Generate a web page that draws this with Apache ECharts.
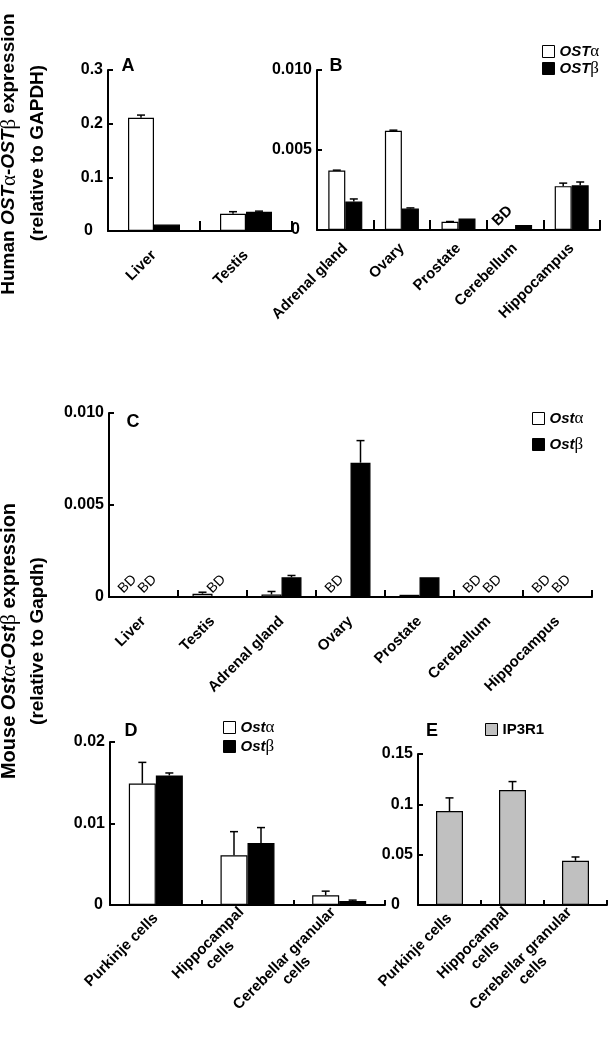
<!DOCTYPE html>
<html><head><meta charset="utf-8">
<script src="https://cdn.jsdelivr.net/npm/echarts@6/dist/echarts.min.js"></script>
<style>html,body{margin:0;padding:0;background:#fff}#c{width:613px;height:1050px}</style>
</head><body><div id="c"></div>
<script>
// ---------- Data ----------
// Panel A (human)
const catsA = ['Liver', 'Testis'];
const humanAlphaA = [0.211, 0.032];
const humanAlphaAErr = [0.005, 0.004];
const humanBetaA = [0.012, 0.036];
const humanBetaAErr = [0, 0.001];
const yTicksA = ['0', '0.1', '0.2', '0.3'];
// Panel B (human)
const catsB = ['Adrenal gland', 'Ovary', 'Prostate', 'Cerebellum', 'Hippocampus'];
const humanAlphaB = [0.00372, 0.0062, 0.00051, 'BD', 0.00274];
const humanAlphaBErr = [0.00002, 0.00004, 0.00002, 0, 0.00019];
const humanBetaB = [0.00178, 0.00134, 0.00072, 0.00031, 0.00279];
const humanBetaBErr = [0.00016, 0.00004, 0, 0, 0.00021];
const yTicksB = ['0', '0.005', '0.010'];
// Panel C (mouse tissues)
const catsC = ['Liver', 'Testis', 'Adrenal gland', 'Ovary', 'Prostate', 'Cerebellum', 'Hippocampus'];
const mouseAlphaC = ['BD', 0.00018, 0.00014, 'BD', 0.00012, 'BD', 'BD'];
const mouseAlphaCErr = [0, 0.00008, 0.00016, 0, 0, 0, 0];
const mouseBetaC = ['BD', 'BD', 0.00107, 0.0073, 0.00107, 'BD', 'BD'];
const mouseBetaCErr = [0, 0, 0.0001, 0.0012, 0, 0, 0];
const yTicksC = ['0', '0.005', '0.010'];
// Panel D (mouse cells)
const catsD = ['Purkinje cells', 'Hippocampal\ncells', 'Cerebellar granular\ncells'];
const mouseAlphaD = [0.0149, 0.0061, 0.0012];
const mouseAlphaDErr = [0.0026, 0.0029, 0.0005];
const mouseBetaD = [0.0159, 0.0076, 0.0005];
const mouseBetaDErr = [0.0003, 0.0019, 0.0001];
const yTicksD = ['0', '0.01', '0.02'];
// Panel E (IP3R1)
const catsE = ['Purkinje cells', 'Hippocampal\ncells', 'Cerebellar granular\ncells'];
const ip3r1E = [0.0934, 0.1143, 0.044];
const ip3r1EErr = [0.013, 0.0083, 0.0037];
const yTicksE = ['0', '0.05', '0.1', '0.15'];

// ---------- Helpers ----------
const FONT = '"Liberation Sans", Arial, Helvetica, sans-serif';
const SERIF = '"Liberation Serif", "DejaVu Serif", serif';

function yAxisCfg(gi, ticks, zeroPad) {
  const max = parseFloat(ticks[ticks.length - 1]);
  const interval = max / (ticks.length - 1);
  return {
    type: 'value', gridIndex: gi, min: 0, max: max, interval: interval,
    splitLine: { show: false },
    axisLine: { show: true, lineStyle: { color: '#000', width: 2 } },
    axisTick: { show: true, inside: true, length: 5, lineStyle: { color: '#000', width: 2 } },
    axisLabel: {
      color: '#000', fontWeight: 'bold', fontSize: 16, fontFamily: FONT, margin: 5,
      formatter: function (v) { const s = ticks[Math.round(v / interval)]; return s === '0' ? '{z|0}' : s; },
      rich: { z: { fontWeight: 'bold', fontSize: 16, fontFamily: FONT, color: '#000', padding: [0, zeroPad, 0, 0] } }
    }
  };
}
function xAxisCfg(gi, cats, margin, tickLen) {
  return {
    type: 'category', gridIndex: gi, data: cats,
    axisLine: { show: true, lineStyle: { color: '#000', width: 2 } },
    axisTick: { show: true, inside: true, length: tickLen, lineStyle: { color: '#000', width: 2 } },
    axisLabel: {
      interval: 0, rotate: 45, margin: margin, color: '#000', fontWeight: 'bold', fontSize: 15, fontFamily: FONT,
      formatter: function (v) { return v.indexOf('\n') >= 0 ? v.split('\n').map(s => '{c|' + s + '}').join('\n') : v; },
      rich: { c: { align: 'center', color: '#000', fontWeight: 'bold', fontSize: 15, fontFamily: FONT, lineHeight: 17 } }
    }
  };
}
function barSeries(name, gi, vals, color, bw, bdSize, bdWeight) {
  return {
    type: 'bar', name: name, xAxisIndex: gi, yAxisIndex: gi, barWidth: bw, barGap: '0%',
    itemStyle: { color: color, borderColor: '#000', borderWidth: 1.2 },
    data: vals.map(v => v === 'BD' ? {
      value: 0, itemStyle: { borderWidth: 0 },
      label: { show: true, formatter: 'BD', position: [2, -1], rotate: 45, align: 'left', verticalAlign: 'bottom',
        fontSize: bdSize, fontWeight: bdWeight, fontFamily: FONT, color: '#000' }
    } : v)
  };
}
function errSeries(gi, vals, errs, offset) {
  const data = [];
  vals.forEach((v, i) => { if (v !== 'BD' && errs[i] > 0) data.push([i, v, v + errs[i]]); });
  return {
    type: 'custom', xAxisIndex: gi, yAxisIndex: gi, z: 5, silent: true, data: data,
    encode: { x: 0, y: [1, 2] },
    renderItem: function (params, api) {
      const idx = api.value(0);
      const top = api.coord([idx, api.value(2)]);
      const base = api.coord([idx, api.value(1)]);
      const cx = top[0] + offset;
      return { type: 'group', children: [
        { type: 'line', shape: { x1: cx, y1: base[1], x2: cx, y2: top[1] }, style: { stroke: '#000', lineWidth: 1.5 } },
        { type: 'line', shape: { x1: cx - 4, y1: top[1], x2: cx + 4, y2: top[1] }, style: { stroke: '#000', lineWidth: 1.5 } }
      ] };
    }
  };
}
function legendName(name) {
  if (/[αβ]$/.test(name)) return '{i|' + name.slice(0, -1) + '}{g|' + name.slice(-1) + '}';
  return '{n|' + name + '}';
}
const legendRich = {
  i: { fontFamily: FONT, fontWeight: 'bold', fontStyle: 'italic', fontSize: 15, color: '#000', lineHeight: 18 },
  g: { fontFamily: SERIF, fontSize: 17, color: '#000', lineHeight: 18 },
  n: { fontFamily: FONT, fontWeight: 'bold', fontSize: 15, color: '#000', lineHeight: 18 }
};
function legendCfg(names, left, top, gap) {
  return {
    data: names, orient: 'vertical', left: left, top: top, padding: 0, itemGap: gap,
    itemWidth: 12, itemHeight: 12, icon: 'rect', selectedMode: false,
    itemStyle: { borderColor: '#000', borderWidth: 1 },
    formatter: legendName, textStyle: { rich: legendRich }
  };
}
function titleText(x, y, parts, size) {
  return {
    type: 'text', x: x, y: y, rotation: Math.PI / 2, silent: true,
    style: {
      text: parts, align: 'center', verticalAlign: 'middle', textAlign: 'center', textVerticalAlign: 'middle',
      rich: {
        b: { fontFamily: FONT, fontWeight: 'bold', fontSize: size, fill: '#000' },
        bi: { fontFamily: FONT, fontWeight: 'bold', fontStyle: 'italic', fontSize: size, fill: '#000' },
        g: { fontFamily: SERIF, fontSize: size + 2, fill: '#000' }
      }
    }
  };
}
function letter(x, y, t) {
  return { type: 'text', x: x, y: y, silent: true,
    style: { text: t, font: 'bold 18px ' + FONT, fill: '#000', align: 'center', verticalAlign: 'middle', textAlign: 'center', textVerticalAlign: 'middle' } };
}

// ---------- Chart ----------
const chart = echarts.init(document.getElementById('c'), null, { renderer: 'canvas' });
chart.setOption({
  animation: false,
  backgroundColor: '#fff',
  grid: [
    { left: 108, top: 70, width: 184, height: 161 },
    { left: 317, top: 70, width: 283, height: 160 },
    { left: 109, top: 413, width: 483, height: 184 },
    { left: 110, top: 742, width: 275, height: 163 },
    { left: 418, top: 754, width: 189, height: 151 }
  ],
  xAxis: [
    xAxisCfg(0, catsA, 22, 10),
    xAxisCfg(1, catsB, 16, 10),
    xAxisCfg(2, catsC, 22, 7),
    xAxisCfg(3, catsD, 11, 5),
    xAxisCfg(4, catsE, 11, 5)
  ],
  yAxis: [
    yAxisCfg(0, yTicksA, 10),
    yAxisCfg(1, yTicksB, 12),
    yAxisCfg(2, yTicksC, 0),
    yAxisCfg(3, yTicksD, 2),
    yAxisCfg(4, yTicksE, 13)
  ],
  legend: [
    legendCfg(['OSTα', 'OSTβ'], 542, 43, 0),
    legendCfg(['Ostα', 'Ostβ'], 532, 410, 9),
    legendCfg(['Ostα', 'Ostβ'], 223, 719, 2),
    legendCfg(['IP3R1'], 485, 722, 0)
  ],
  series: [
    barSeries('OSTα', 0, humanAlphaA, '#fff', 26, 15, 'bold'),
    barSeries('OSTβ', 0, humanBetaA, '#000', 26, 15, 'bold'),
    errSeries(0, humanAlphaA, humanAlphaAErr, -13),
    errSeries(0, humanBetaA, humanBetaAErr, 13),
    barSeries('OSTα', 1, humanAlphaB, '#fff', 17, 15, 'bold'),
    barSeries('OSTβ', 1, humanBetaB, '#000', 17, 15, 'bold'),
    errSeries(1, humanAlphaB, humanAlphaBErr, -8.5),
    errSeries(1, humanBetaB, humanBetaBErr, 8.5),
    barSeries('Ostα', 2, mouseAlphaC, '#fff', 20, 14, 'normal'),
    barSeries('Ostβ', 2, mouseBetaC, '#000', 20, 14, 'normal'),
    errSeries(2, mouseAlphaC, mouseAlphaCErr, -10),
    errSeries(2, mouseBetaC, mouseBetaCErr, 10),
    barSeries('Ostα', 3, mouseAlphaD, '#fff', 27, 14, 'normal'),
    barSeries('Ostβ', 3, mouseBetaD, '#000', 27, 14, 'normal'),
    errSeries(3, mouseAlphaD, mouseAlphaDErr, -13.5),
    errSeries(3, mouseBetaD, mouseBetaDErr, 13.5),
    barSeries('IP3R1', 4, ip3r1E, '#c0c0c0', 27, 14, 'normal'),
    errSeries(4, ip3r1E, ip3r1EErr, 0)
  ],
  graphic: [
    titleText(9, 154, '{b|Human }{bi|OST}{g|α}{b|-}{bi|OST}{g|β}{b| expression}', 19),
    titleText(38, 153, '{b|(relative to GAPDH)}', 19),
    titleText(9, 641, '{b|Mouse }{bi|Ost}{g|α}{b|-}{bi|Ost}{g|β}{b| expression}', 20),
    titleText(38, 641, '{b|(relative to Gapdh)}', 19),
    letter(128, 66, 'A'),
    letter(336, 66, 'B'),
    letter(133, 422, 'C'),
    letter(131, 731, 'D'),
    letter(432, 731, 'E')
  ]
});
</script>
</body></html>
